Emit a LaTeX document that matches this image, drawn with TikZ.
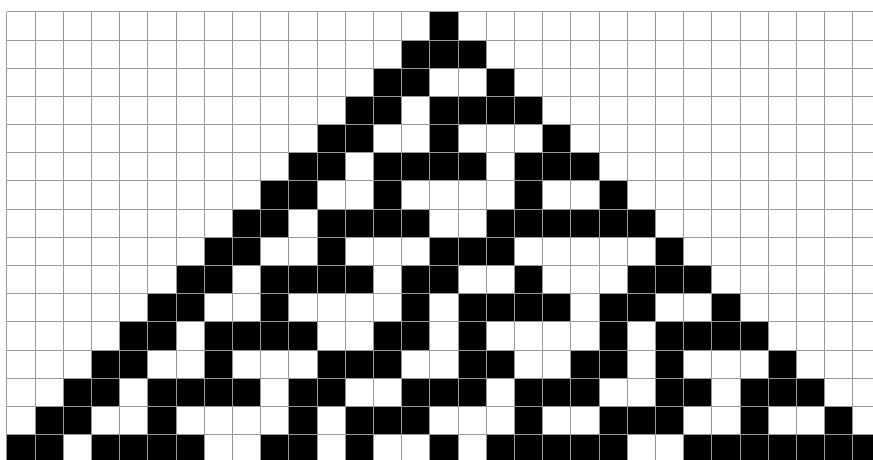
\documentclass[tikz,border=0pt]{standalone}
\begin{document}
\begin{tikzpicture}[
        alive/.style={fill=black},
        gridline/.style={draw=gray!80, line width=0.8pt},
        x=1cm, y=1cm
    ]
        \useasboundingbox (-0.24,-15.865) rectangle (30.72,0.415);
        \clip (-0.24,-15.865) rectangle (30.72,0.415);
        % rows of black cells, row/columns
        \foreach \r/\cols in {
            0/{15},
            1/{14,15,16},
            2/{13,14,17},
            3/{12,13,15,16,17,18},
            4/{11,12,15,19},
            5/{10,11,13,14,15,16,18,19,20},
            6/{9,10,13,18,21},
            7/{8,9,11,12,13,14,17,18,19,20,21,22},
            8/{7,8,11,15,16,17,23},
            9/{6,7,9,10,11,12,14,15,18,22,23,24},
            10/{5,6,9,14,16,17,18,19,21,22,25},
            11/{4,5,7,8,9,10,13,14,16,21,23,24,25,26},
            12/{3,4,7,11,12,13,16,17,20,21,23,27},
            13/{2,3,5,6,7,8,10,11,14,15,16,18,19,20,23,24,26,27,28},
            14/{1,2,5,10,12,13,14,18,21,22,23,26,29},
            15/{0,1,3,4,5,6,9,10,12,15,17,18,19,20,21,24,25,26,27,28,29,30}}
        {
            \foreach \c in \cols {
                \fill[alive] (\c,-\r) rectangle ++(1,-1);
            }
        }
        \draw[gridline] (0,-16) grid (31,0);
    \end{tikzpicture}
\end{document}
